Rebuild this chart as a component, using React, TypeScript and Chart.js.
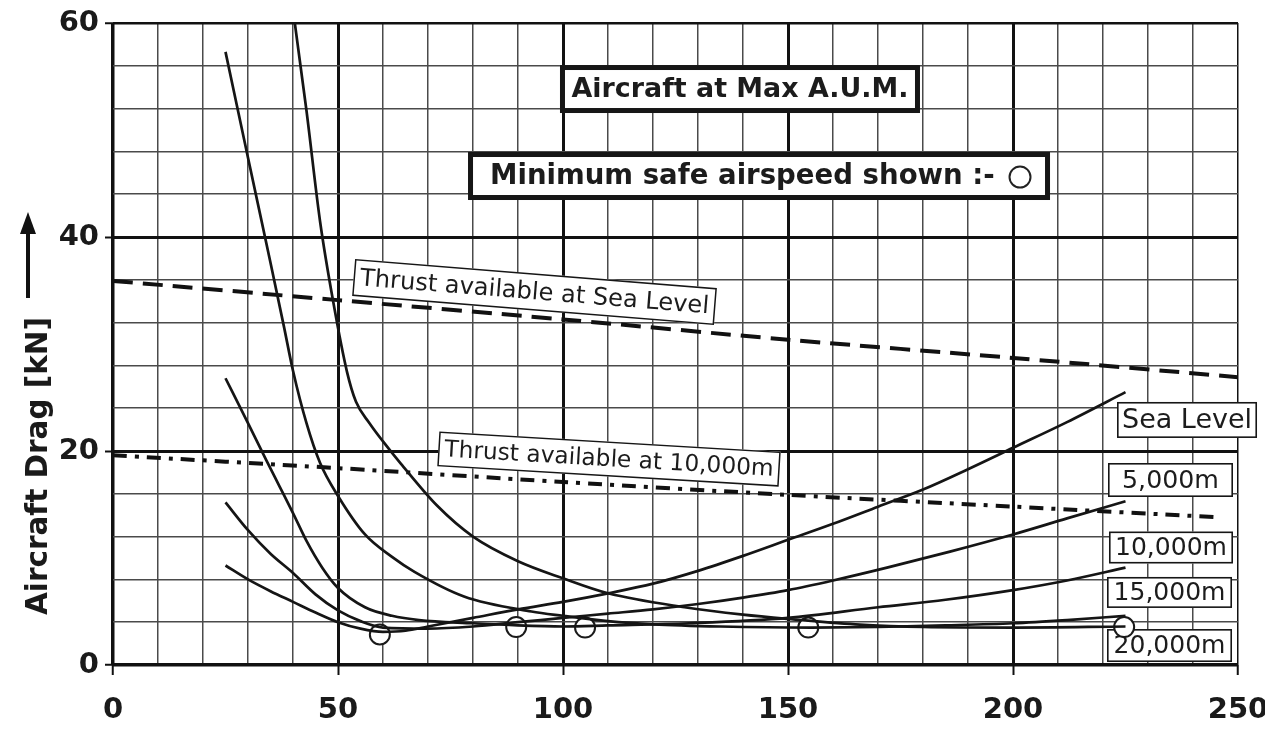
import { useEffect, useRef } from 'react';
import { Chart, registerables } from 'chart.js';

Chart.register(...registerables);

const FONT = '"DejaVu Sans", Verdana, sans-serif';

// ---- data (airspeed vs aircraft drag, kN) ----
const xTickLabels = [0, 50, 100, 150, 200, 250];
const yTickLabels = [0, 20, 40, 60];

const seaLevelSpeed = [25, 30, 35, 40, 45, 50, 55, 60, 65, 70, 80, 90, 100, 110, 120, 130, 140, 150, 160, 170, 180, 190, 200, 212, 225];
const seaLevelDrag = [9.3, 8.0, 6.9, 5.9, 4.9, 4.0, 3.4, 3.1, 3.2, 3.6, 4.4, 5.2, 5.9, 6.7, 7.6, 8.8, 10.2, 11.7, 13.2, 14.8, 16.4, 18.3, 20.3, 22.7, 25.5];

const alt5000Speed = [25, 30, 35, 40, 45, 50, 55, 60, 70, 80, 90, 100, 110, 120, 130, 140, 150, 160, 172, 186, 200, 212, 225];
const alt5000Drag = [15.2, 12.6, 10.4, 8.6, 6.6, 5.1, 4.1, 3.5, 3.4, 3.6, 4.0, 4.4, 4.8, 5.2, 5.7, 6.3, 7.0, 7.9, 9.1, 10.6, 12.2, 13.7, 15.3];

const alt10000Speed = [25, 30, 34, 37, 40, 43, 46.5, 50, 56, 62, 68, 80, 90, 100, 110, 128, 150, 170, 185, 200, 212, 225];
const alt10000Drag = [26.8, 22.6, 19.2, 16.7, 14.2, 11.6, 9.1, 7.2, 5.4, 4.6, 4.2, 3.9, 3.7, 3.6, 3.7, 3.9, 4.4, 5.4, 6.1, 7.0, 7.9, 9.1];

const alt15000Speed = [25, 30, 35, 38, 40, 43, 46, 50, 56, 62, 67, 78, 93, 100, 110, 120, 135, 155, 170, 185, 200, 212, 225];
const alt15000Drag = [57.3, 47.4, 37.6, 31.6, 27.5, 22.6, 18.9, 15.8, 12.2, 10.1, 8.7, 6.4, 5.0, 4.6, 4.1, 3.8, 3.6, 3.5, 3.55, 3.7, 3.9, 4.2, 4.6];

const alt20000Speed = [39.3, 40.4, 43, 46, 49, 52, 54, 57, 60, 64, 72, 80, 90, 100, 110, 127, 140, 150, 165, 180, 200, 225];
const alt20000Drag = [63, 60, 51.8, 41.5, 33.8, 27.4, 24.6, 22.6, 20.9, 18.8, 14.9, 12.0, 9.7, 8.1, 6.7, 5.4, 4.7, 4.3, 3.8, 3.55, 3.5, 3.6];

const minSafeSpeed = [59.3, 89.6, 104.9, 154.5, 224.7];
const minSafeDrag = [2.85, 3.55, 3.5, 3.5, 3.55];

const thrustSeaLevelSpeed = [0, 50, 100, 150, 200, 250];
const thrustSeaLevel = [35.9, 34.1, 32.3, 30.4, 28.7, 26.9];

const thrust10000Speed = [0, 50, 100, 150, 200, 246];
const thrust10000 = [19.6, 18.4, 17.1, 15.9, 14.8, 13.8];

const altitudeLabels = ['Sea Level', '5,000m', '10,000m', '15,000m', '20,000m'];

const pts = (xs: number[], ys: number[]) => xs.map((x, i) => ({ x, y: ys[i] }));

function fitFont(ctx: CanvasRenderingContext2D, text: string, weight: string, target: number) {
  ctx.font = `${weight} 100px ${FONT}`;
  const w = ctx.measureText(text).width;
  const size = (100 * target) / w;
  return `${weight} ${size.toFixed(2)}px ${FONT}`;
}

function boxedText(
  ctx: CanvasRenderingContext2D,
  cx: number, cy: number, w: number, h: number, angleDeg: number, lw: number,
  text: string, weight: string, textW: number,
  align: CanvasTextAlign = 'center', textDx = 0,
) {
  ctx.save();
  ctx.translate(cx, cy);
  ctx.rotate((angleDeg * Math.PI) / 180);
  ctx.fillStyle = '#ffffff';
  ctx.fillRect(-w / 2, -h / 2, w, h);
  ctx.lineWidth = lw;
  ctx.strokeStyle = '#161616';
  ctx.strokeRect(-w / 2 + lw / 2, -h / 2 + lw / 2, w - lw, h - lw);
  if (text) {
    ctx.font = fitFont(ctx, text, weight, textW);
    ctx.fillStyle = '#1c1c1c';
    ctx.textAlign = align;
    ctx.textBaseline = 'middle';
    ctx.fillText(text, textDx, 1);
  }
  ctx.restore();
}

const annotationPlugin = {
  id: 'annotationPlugin',
  beforeDatasetsDraw(chart: any) {
    const { ctx } = chart;
    const X = (v: number) => chart.scales.x.getPixelForValue(v);
    const Y = (v: number) => chart.scales.y.getPixelForValue(v);

    boxedText(ctx, X(139.33), Y(53.83), 360, 48, 0, 5, 'Aircraft at Max A.U.M.', 'bold', 337);

    // Minimum safe airspeed box with circle symbol
    const mx = X(143.56), my = Y(45.7);
    boxedText(ctx, mx, my, 582, 48, 0, 5, 'Minimum safe airspeed shown :-', 'bold', 505, 'left', -269);
    ctx.save();
    ctx.beginPath();
    ctx.arc(mx + 261, my + 1, 10.5, 0, Math.PI * 2);
    ctx.fillStyle = '#fff';
    ctx.fill();
    ctx.lineWidth = 2;
    ctx.strokeStyle = '#222';
    ctx.stroke();
    ctx.restore();

    boxedText(ctx, X(93.67), Y(34.86), 363, 37, 4.6, 1.5, 'Thrust available at Sea Level', 'normal', 350);
    boxedText(ctx, X(110.22), Y(19.25), 342, 35, 3.4, 1.5, 'Thrust available at 10,000m', 'normal', 330);

    const altPos = [
      [238.67, 22.9, 140, 36, 130],
      [235.0, 17.29, 125, 34, 97],
      [235.11, 10.98, 124, 32, 112],
      [234.78, 6.78, 125, 31, 112],
      [234.78, 1.82, 125, 33, 112],
    ];
    altitudeLabels.forEach((lab, i) => {
      const [ax, ay, w, h, tw] = altPos[i];
      boxedText(ctx, X(ax), Y(ay), w, h, 0, 1.6, lab, 'normal', tw);
    });
  },
  afterDraw(chart: any) {
    const { ctx } = chart;
    ctx.save();
    // rotated axis title
    ctx.translate(47, 466);
    ctx.rotate(-Math.PI / 2);
    const t = 'Aircraft Drag [kN]';
    ctx.font = fitFont(ctx, t, 'bold', 298);
    ctx.fillStyle = '#1a1a1a';
    ctx.textAlign = 'center';
    ctx.textBaseline = 'alphabetic';
    ctx.fillText(t, 0, 0);
    ctx.restore();

    // upward arrow
    ctx.save();
    ctx.strokeStyle = '#111';
    ctx.fillStyle = '#111';
    ctx.lineWidth = 4;
    ctx.beginPath();
    ctx.moveTo(28, 298);
    ctx.lineTo(28, 228);
    ctx.stroke();
    ctx.beginPath();
    ctx.moveTo(28, 212);
    ctx.lineTo(20, 234);
    ctx.lineTo(36, 234);
    ctx.closePath();
    ctx.fill();
    ctx.restore();
  },
};

const curveStyle = {
  borderColor: '#151515',
  borderWidth: 2.7,
  pointRadius: 0,
  fill: false,
  cubicInterpolationMode: 'monotone' as const,
};

export default function App() {
  const ref = useRef<HTMLCanvasElement | null>(null);

  useEffect(() => {
    document.body.style.margin = '0';
    const canvas = ref.current;
    if (!canvas) return;

    const isXLabel = (v: number) => xTickLabels.includes(v);
    const isYLabel = (v: number) => yTickLabels.includes(v);

    const chart = new Chart(canvas, {
      type: 'line',
      data: {
        datasets: [
          { label: 'Sea Level', data: pts(seaLevelSpeed, seaLevelDrag), ...curveStyle },
          { label: '5,000m', data: pts(alt5000Speed, alt5000Drag), ...curveStyle },
          { label: '10,000m', data: pts(alt10000Speed, alt10000Drag), ...curveStyle },
          { label: '15,000m', data: pts(alt15000Speed, alt15000Drag), ...curveStyle },
          { label: '20,000m', data: pts(alt20000Speed, alt20000Drag), ...curveStyle },
          {
            label: 'Thrust available at Sea Level',
            data: pts(thrustSeaLevelSpeed, thrustSeaLevel),
            borderColor: '#111', borderWidth: 4, borderDash: [20, 10], pointRadius: 0, tension: 0.3,
          },
          {
            label: 'Thrust available at 10,000m',
            data: pts(thrust10000Speed, thrust10000),
            borderColor: '#111', borderWidth: 4, borderDash: [14, 8, 4, 8], pointRadius: 0, tension: 0.3,
          },
          {
            label: 'Minimum safe airspeed',
            data: pts(minSafeSpeed, minSafeDrag),
            showLine: false,
            pointRadius: 10,
            pointBackgroundColor: '#ffffff',
            pointBorderColor: '#1a1a1a',
            pointBorderWidth: 2,
          },
        ],
      },
      options: {
        responsive: false,
        animation: false,
        devicePixelRatio: 1,
        layout: { padding: { top: 23, right: 27, left: 0, bottom: 0 } },
        plugins: { legend: { display: false }, tooltip: { enabled: false } },
        scales: {
          x: {
            type: 'linear',
            min: 0,
            max: 250,
            afterFit: (s: any) => {
              s.height = 64;
              s.paddingLeft = 0;
              s.paddingRight = 0;
            },
            border: { display: false },
            ticks: {
              stepSize: 10,
              autoSkip: false,
              maxRotation: 0,
              padding: 18,
              color: '#1a1a1a',
              font: { family: FONT, size: 29, weight: 'bold' },
              callback: (v: any) => (isXLabel(Number(v)) ? String(v) : ''),
            },
            grid: {
              color: (c: any) => (c.tick && Number(c.tick.value) % 50 === 0 ? '#111' : '#4a4a4a'),
              lineWidth: (c: any) => {
                const v = c.tick ? Number(c.tick.value) : 1;
                if (v === 0) return 3.5;
                if (v % 50 === 0 && v !== 250) return 3;
                return 1.5;
              },
              tickColor: (c: any) => (c.tick && isXLabel(Number(c.tick.value)) ? '#111' : 'rgba(0,0,0,0)'),
              tickWidth: 2,
              tickLength: 10,
            },
          },
          y: {
            type: 'linear',
            min: 0,
            max: 60,
            afterFit: (s: any) => {
              s.width = 113;
              s.paddingTop = 0;
              s.paddingBottom = 0;
            },
            border: { display: false },
            ticks: {
              stepSize: 4,
              autoSkip: false,
              padding: 6,
              color: '#1a1a1a',
              font: { family: FONT, size: 29, weight: 'bold' },
              callback: (v: any) => (isYLabel(Number(v)) ? String(v) : ''),
            },
            grid: {
              color: (c: any) => (c.tick && Number(c.tick.value) % 20 === 0 ? '#111' : '#4a4a4a'),
              lineWidth: (c: any) => {
                const v = c.tick ? Number(c.tick.value) : 1;
                if (v === 0) return 3.5;
                if (v === 60) return 2.5;
                if (v % 20 === 0) return 3;
                return 1.5;
              },
              tickColor: (c: any) => (c.tick && isYLabel(Number(c.tick.value)) ? '#111' : 'rgba(0,0,0,0)'),
              tickWidth: 2,
              tickLength: 8,
            },
          },
        },
      },
      plugins: [annotationPlugin],
    } as any);

    return () => chart.destroy();
  }, []);

  return (
    <div style={{ width: 1265, height: 729, background: '#fff' }}>
      <canvas ref={ref} width={1265} height={729} style={{ display: 'block' }} />
    </div>
  );
}
